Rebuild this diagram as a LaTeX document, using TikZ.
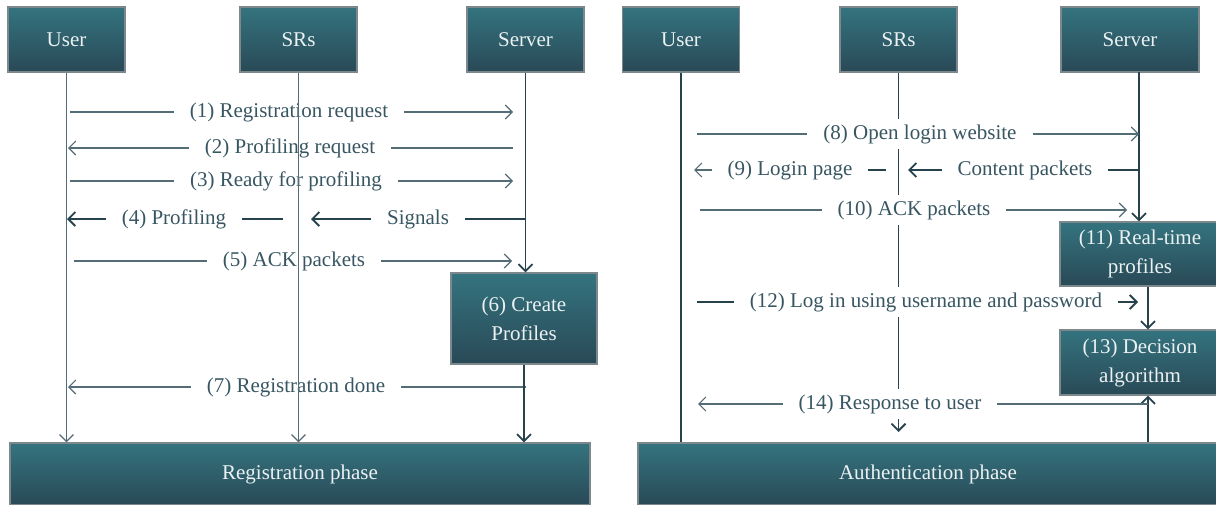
\documentclass[tikz,border=0pt]{standalone}
\usepackage{fontspec}
\setmainfont{Liberation Serif}
\usetikzlibrary{arrows.meta}
\definecolor{boxtop}{RGB}{52,116,127}
\definecolor{boxbot}{RGB}{41,73,86}
\definecolor{boxedge}{RGB}{125,136,140}
\definecolor{lineclr}{RGB}{38,66,77}
\definecolor{msgclr}{RGB}{84,108,118}
\definecolor{txtclr}{RGB}{56,86,98}
\tikzset{
  actor/.style={draw=boxedge, line width=0.6pt, top color=boxtop, bottom color=boxbot,
    text=white!90!boxtop, minimum width=58.5pt, minimum height=32.5pt, inner sep=0pt, align=center},
  phase/.style={actor, minimum width=290pt, minimum height=31pt},
  lbl/.style={text=txtclr, inner xsep=0pt, outer xsep=8pt, inner ysep=0pt},
  lblw/.style={lbl, fill=white, inner ysep=2.5pt, text height=7.5pt, text depth=2.5pt},
  msg/.style={msgclr, line width=0.55pt},
  msgd/.style={lineclr, line width=0.9pt},
  life/.style={lineclr, line width=0.9pt},
  lifet/.style={msgclr, line width=0.6pt},
  arr/.style={-{Straight Barb[length=3.5pt,width=7pt]}}
}
\begin{document}
\begin{tikzpicture}[x=0.5pt, y=-0.5pt, font=\fontsize{10.5}{14.5}\selectfont]
\useasboundingbox (0,0) rectangle (1216,504);

% registration phase
\node[actor] (userL) at (66.5,39.5) {User};
\node[actor] (srsL) at (298.5,39.5) {SRs};
\node[actor] (serverL) at (525.5,39.5) {Server};
\node[actor, minimum width=73pt, minimum height=45.5pt] (create) at (524,318.5) {(6) Create\\Profiles};
\node[phase] (regphase) at (300,474) {Registration phase};

\node[lbl] (m1) at (289,112) {(1) Registration request};
\node[lbl] (m2) at (290,148) {(2) Profiling request};
\node[lbl] (m3) at (286,181) {(3) Ready for profiling};
\node[lbl] (m4) at (174,219) {(4) Profiling};
\node[lbl] (sig) at (418,219) {Signals};
\node[lbl] (m5) at (294,261) {(5) ACK packets};
\node[lbl] (m7) at (296,387) {(7) Registration done};

\coordinate (m1s) at (70,112);  \coordinate (m1e) at (513,112);
\coordinate (m2s) at (513,148); \coordinate (m2e) at (68,148);
\coordinate (m3s) at (70,181);  \coordinate (m3e) at (513,181);
\coordinate (m4a) at (525,219); \coordinate (m4b) at (311,219);
\coordinate (m4c) at (283,219); \coordinate (m4d) at (67,219);
\coordinate (m5s) at (74,261);  \coordinate (m5e) at (512,261);
\coordinate (m7s) at (526,387); \coordinate (m7e) at (68,387);

\draw[msg] (m1s) -- (m1.west); \draw[msg,arr] (m1.east) -- (m1e);
\draw[msg] (m2s) -- (m2.east); \draw[msg,arr] (m2.west) -- (m2e);
\draw[msg] (m3s) -- (m3.west); \draw[msg,arr] (m3.east) -- (m3e);
\draw[msgd] (m4a) -- (sig.east); \draw[msgd,arr] (sig.west) -- (m4b);
\draw[msgd] (m4c) -- (m4.east); \draw[msgd,arr] (m4.west) -- (m4d);
\draw[msg] (m5s) -- (m5.west); \draw[msg,arr] (m5.east) -- (m5e);
\draw[msg] (m7s) -- (m7.east); \draw[msg,arr] (m7.west) -- (m7e);

\draw[lifet,arr] (userL) -- (userL |- regphase.north);
\draw[lifet,arr] (srsL) -- (srsL |- regphase.north);
\draw[life,arr] (serverL) -- (serverL |- create.north);
\draw[life,arr] (create) -- (create |- regphase.north);

% authentication phase
\node[actor] (userR) at (681,39.5) {User};
\node[actor] (srsR) at (898.5,39.5) {SRs};
\node[actor, minimum width=69pt] (serverR) at (1130,39.5) {Server};
\node[actor, minimum width=80pt, minimum height=32pt] (rtprof) at (1140,254) {(11) Real-time\\profiles};
\node[actor, minimum width=80pt, minimum height=32.5pt] (decide) at (1140,362.5) {(13) Decision\\algorithm};
\node[phase] (authphase) at (928,474) {Authentication phase};

\coordinate (srsend) at (898.5,432);
\coordinate (srv) at (1139,72);
\coordinate (dec) at ([xshift=4pt]decide.south);
\draw[life] (userR) -- (userR |- authphase.north);
\draw[life,arr] (srsR) -- (srsend);
\draw[life,arr] (srv) -- (srv |- rtprof.north);
\draw[life,arr] ([xshift=4pt]rtprof.south) -- ([xshift=4pt]decide.north);
\draw[life,arr] (dec |- authphase.north) -- (dec);

\node[lblw] (m8) at (920,134) {(8) Open login website};
\node[lblw] (m9) at (790,170) {(9) Login page};
\node[lblw] (cont) at (1025,170) {Content packets};
\node[lblw] (m10) at (914,210) {(10) ACK packets};
\node[lblw] (m12) at (926,302) {(12) Log in using username and password};
\node[lblw] (m14) at (890,404) {(14) Response to user};

\coordinate (m8s) at (697,134);   \coordinate (m8e) at (1139,134);
\coordinate (m9a) at (1139,170);  \coordinate (m9b) at (908,170);
\coordinate (m9c) at (886,170);   \coordinate (m9d) at (694,170);
\coordinate (m10s) at (700,210);  \coordinate (m10e) at (1127,210);
\coordinate (m12s) at (697,302);  \coordinate (m12e) at (1138,302);
\coordinate (m14s) at (1148,404); \coordinate (m14e) at (698,404);

\draw[msg] (m8s) -- (m8.west); \draw[msg,arr] (m8.east) -- (m8e);
\draw[msgd] (m9a) -- (cont.east); \draw[msgd,arr] (cont.west) -- (m9b);
\draw[msgd] (m9c) -- (m9.east); \draw[msg,arr] (m9.west) -- (m9d);
\draw[msg] (m10s) -- (m10.west); \draw[msg,arr] (m10.east) -- (m10e);
\draw[msgd] (m12s) -- (m12.west); \draw[msgd,arr] (m12.east) -- (m12e);
\draw[msg] (m14s) -- (m14.east); \draw[msg,arr] (m14.west) -- (m14e);
\end{tikzpicture}
\end{document}
